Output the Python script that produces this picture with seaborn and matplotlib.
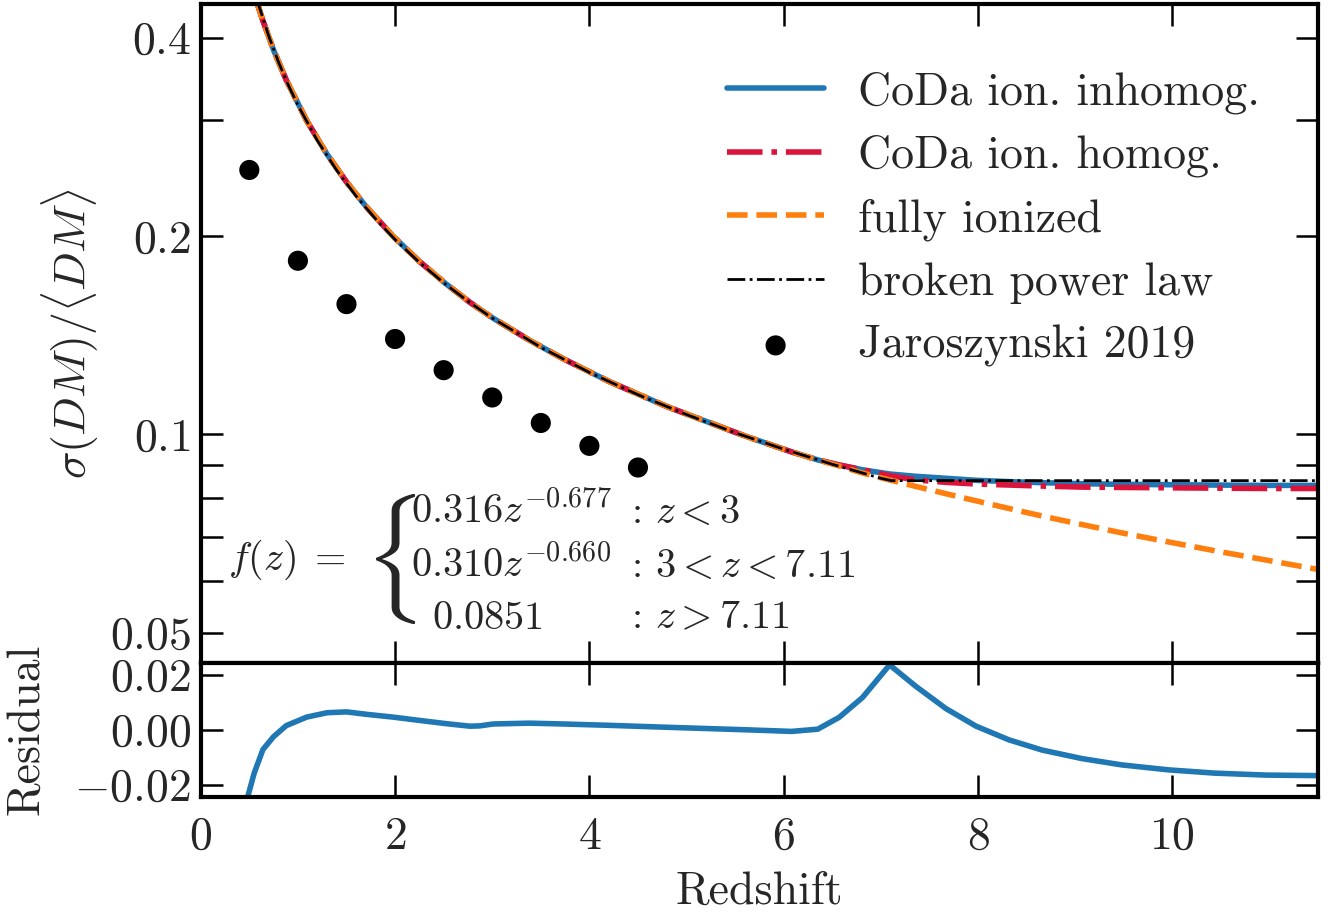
import matplotlib
matplotlib.use("Agg")
import matplotlib.pyplot as plt
import matplotlib.ticker as mticker
import seaborn as sns

# ---------------- data ----------------
jar_z = [0.5, 1.0, 1.5, 2.0, 2.5, 3.0, 3.5, 4.0, 4.5]
jar_sigma = [0.252, 0.1835, 0.1577, 0.1396, 0.1252, 0.1138, 0.1041, 0.0961, 0.0891]

fit_z = [0.5, 0.6, 0.7, 0.8, 0.9, 1.0, 1.2, 1.4, 1.6, 1.8, 2.0, 2.25, 2.5, 2.75,
         3.0, 3.5, 4.0, 4.5, 5.0, 5.5, 6.0, 6.5, 7.0, 7.11, 8.0, 9.0, 10.0, 11.0, 11.5]
fit_sigma = [0.5052, 0.4465, 0.4023, 0.3675, 0.3393, 0.3160, 0.2793, 0.2516, 0.2299,
             0.2123, 0.1976, 0.1825, 0.1699, 0.1593, 0.1502, 0.1356, 0.1242, 0.1149,
             0.1072, 0.1006, 0.0950, 0.0901, 0.0858, 0.0851, 0.0851, 0.0851, 0.0851,
             0.0851, 0.0851]

coda_z = [0.44, 0.55, 0.64, 0.75, 0.88, 1.09, 1.30, 1.50, 1.71, 1.98, 2.25, 2.53,
          2.77, 2.87, 3.01, 3.38, 3.73, 4.21, 4.80, 5.60, 6.08, 6.35, 6.57, 6.81,
          7.09, 7.36, 7.67, 7.98, 8.32, 8.66, 9.07, 9.48, 9.96, 10.44, 10.96, 11.50]
inhomog = [0.5344, 0.4662, 0.4244, 0.3830, 0.3451, 0.2995, 0.2662, 0.2417, 0.2210,
           0.1999, 0.1831, 0.1690, 0.1587, 0.1550, 0.1501, 0.1391, 0.1303, 0.1202,
           0.1102, 0.0995, 0.0941, 0.0915, 0.0899, 0.0884, 0.0871, 0.0864, 0.0858,
           0.0852, 0.0848, 0.0845, 0.0842, 0.0840, 0.0839, 0.0838, 0.0837, 0.0837]
homog = [0.5344, 0.4662, 0.4244, 0.3830, 0.3451, 0.2995, 0.2662, 0.2417, 0.2210,
         0.1999, 0.1831, 0.1690, 0.1587, 0.1550, 0.1501, 0.1391, 0.1303, 0.1202,
         0.1102, 0.0995, 0.0941, 0.0915, 0.0899, 0.0884, 0.0866, 0.0853, 0.0846,
         0.0841, 0.0838, 0.0835, 0.0832, 0.0831, 0.0830, 0.0829, 0.0828, 0.0828]
fully = [0.5344, 0.4662, 0.4244, 0.3830, 0.3451, 0.2995, 0.2662, 0.2417, 0.2210,
         0.1999, 0.1831, 0.1690, 0.1587, 0.1550, 0.1501, 0.1391, 0.1303, 0.1202,
         0.1102, 0.0995, 0.0941, 0.0915, 0.0896, 0.0874, 0.0853, 0.0834, 0.0813,
         0.0793, 0.0772, 0.0752, 0.0730, 0.0709, 0.0687, 0.0666, 0.0645, 0.0624]
residual = [-0.0300, -0.0158, -0.0072, -0.0025, 0.0015, 0.0046, 0.0062, 0.0065,
            0.0056, 0.0046, 0.0034, 0.0022, 0.0013, 0.0014, 0.0021, 0.0024, 0.0021,
            0.0016, 0.0009, 0.0000, -0.0006, 0.0002, 0.0045, 0.0117, 0.0236, 0.0158,
            0.0077, 0.0013, -0.0037, -0.0074, -0.0105, -0.0128, -0.0146, -0.0158,
            -0.0165, -0.0167]

labels = ["CoDa ion. inhomog.", "CoDa ion. homog.", "fully ionized",
          "broken power law", "Jaroszynski 2019"]
y_major = [0.05, 0.1, 0.2, 0.4]
y_major_lbl = [r"$0.05$", r"$0.1$", r"$0.2$", r"$0.4$"]
y_minor = [0.06, 0.07, 0.08, 0.09, 0.3]
x_ticks = [0, 2, 4, 6, 8, 10]
x_tick_lbl = [r"$0$", r"$2$", r"$4$", r"$6$", r"$8$", r"$10$"]
r_ticks = [-0.02, 0.0, 0.02]
r_tick_lbl = [r"$-0.02$", r"$0.00$", r"$0.02$"]

# ---------------- style ----------------
sns.set_style("ticks")
plt.rcParams.update({
    "font.family": "serif",
    "font.serif": ["cmr10", "DejaVu Serif"],
    "mathtext.fontset": "cm",
    "axes.formatter.use_mathtext": True,
    "axes.unicode_minus": True,
    "font.size": 33,
    "axes.linewidth": 3.0,
    "axes.edgecolor": "black",
})

FS = 33
fig = plt.figure(figsize=(13.41, 9.17), dpi=100)
L, W = 0.1497, 0.8332
ax1 = fig.add_axes([L, 0.2770, W, 0.7186])
ax2 = fig.add_axes([L, 0.1314, W, 0.1456], sharex=ax1)

blue, red, orange = "#1f77b4", "#dc143c", "#ff7f0e"

sns.lineplot(x=coda_z, y=inhomog, ax=ax1, color=blue, lw=4, linestyle="-",
             label=labels[0], estimator=None, sort=False)
sns.lineplot(x=coda_z, y=homog, ax=ax1, color=red, lw=4, linestyle="-.",
             label=labels[1], estimator=None, sort=False)
sns.lineplot(x=coda_z, y=fully, ax=ax1, color=orange, lw=4, linestyle="--",
             label=labels[2], estimator=None, sort=False)
sns.lineplot(x=fit_z, y=fit_sigma, ax=ax1, color="black", lw=2, linestyle="-.",
             label=labels[3], estimator=None, sort=False)
sns.scatterplot(x=jar_z, y=jar_sigma, ax=ax1, color="black", s=210,
                edgecolor="none", label=labels[4], zorder=5)

ax1.set_yscale("log")
ax1.set_xlim(0, 11.5)
ax1.set_ylim(0.045, 0.45)
ax1.yaxis.set_major_locator(mticker.FixedLocator(y_major))
ax1.yaxis.set_major_formatter(mticker.FixedFormatter(y_major_lbl))
ax1.yaxis.set_minor_locator(mticker.FixedLocator(y_minor))
ax1.yaxis.set_minor_formatter(mticker.NullFormatter())
ax1.set_xticks(x_ticks)
ax1.tick_params(axis="x", labelbottom=False)
ax1.set_ylabel(r"$\sigma(DM)/\langle DM\rangle$", fontsize=FS)
ax1.yaxis.set_label_coords(-0.089, 0.5)
ax1.set_xlabel("")

h, l = ax1.get_legend_handles_labels()
ax1.legend(h, l, loc="upper right", bbox_to_anchor=(0.948, 0.898),
           frameon=False, fontsize=FS, handlelength=2.1, handletextpad=0.75,
           labelspacing=0.46, borderaxespad=0, borderpad=0)

# formula annotation
tf = ax1.transAxes
FF = 29
ax1.text(0.0240, 0.141, r"$f(z)\;=$", transform=tf, fontsize=FF, va="baseline", ha="left")
ax1.text(0.1694, 0.158, r"$\{$", transform=tf, fontsize=78, va="center", ha="center",
         fontweight="bold")
ax1.text(0.1883, 0.2125, r"$0.316z^{-0.677}$", transform=tf, fontsize=FF, va="baseline")
ax1.text(0.1883, 0.131, r"$0.310z^{-0.660}$", transform=tf, fontsize=FF, va="baseline")
ax1.text(0.2070, 0.052, r"$0.0851$", transform=tf, fontsize=FF, va="baseline")
ax1.text(0.3790, 0.2125, r"$:\, z<3$", transform=tf, fontsize=FF, va="baseline")
ax1.text(0.3790, 0.131, r"$:\, 3<z<7.11$", transform=tf, fontsize=FF, va="baseline")
ax1.text(0.3790, 0.052, r"$:\, z>7.11$", transform=tf, fontsize=FF, va="baseline")

# residual panel
sns.lineplot(x=coda_z, y=residual, ax=ax2, color=blue, lw=4,
             estimator=None, sort=False)
ax2.set_ylim(-0.0243, 0.0243)
ax2.set_yticks(r_ticks)
ax2.set_yticklabels(r_tick_lbl)
ax2.set_xticks(x_ticks)
ax2.set_xticklabels(x_tick_lbl)
ax2.set_xlim(0, 11.5)
ax2.set_xlabel("Redshift", fontsize=FS, labelpad=10)
ax2.set_ylabel("Residual", fontsize=FS)
ax2.yaxis.set_label_coords(-0.137, 0.5)

for ax in (ax1, ax2):
    ax.tick_params(which="both", direction="in", top=True, right=True,
                   length=16, width=1.8, labelsize=FS, color="black")
    ax.tick_params(axis="y", which="both", pad=7)
    ax.tick_params(axis="x", which="both", pad=14)
    for s in ax.spines.values():
        s.set_linewidth(3.0)
        s.set_color("black")
    ax.set_facecolor("white")

fig.savefig("out.png", dpi=100, facecolor="white")
